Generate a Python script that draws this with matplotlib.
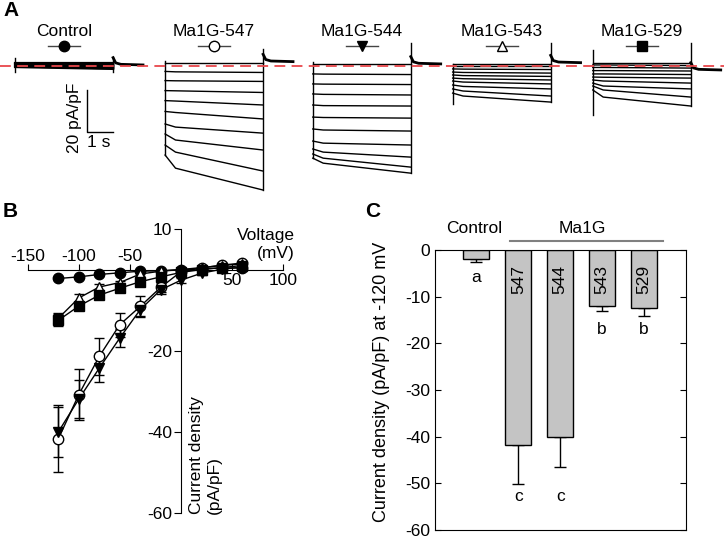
import matplotlib.pyplot as plt
import matplotlib.transforms as mtransforms

plt.rcParams['font.family'] = ['Liberation Sans', 'DejaVu Sans']
plt.rcParams['font.size'] = 12.5
plt.rcParams['axes.unicode_minus'] = False

# ---------------- data ----------------
names = ["Control", "Ma1G-547", "Ma1G-544", "Ma1G-543", "Ma1G-529"]
markers = ["o", "o", "v", "^", "s"]
fills = ["black", "white", "black", "white", "black"]

# panel A: example traces (pA/pF) sampled at these times after the step
trace_t = [0.0, 0.4, 3.77]
trace_start = [0.58, 6.35, 12.03, 17.41, 22.8]  # s
traces_ctrl = [[1.2, 1.2, 1.2], [1.0, 1.0, 0.8], [0.7, 0.7, 0.5], [0.5, 0.5, 0.1],
               [0.2, 0.2, -0.3], [0.0, -0.1, -0.7], [-0.2, -0.3, -1.1], [-0.5, -0.6, -1.4]]
traces_547 = [[1.6, 1.6, 1.6], [-2.6, -2.8, -3.1], [-7.0, -7.1, -7.4], [-11.8, -11.9, -12.7],
              [-16.6, -16.8, -18.7], [-21.8, -22.3, -25.4], [-27.8, -29.3, -32.2],
              [-32.6, -35.5, -40.3], [-37.9, -41.3, -50.4], [-42.7, -49.0, -59.5]]
traces_544 = [[1.0, 1.0, 1.0], [-3.8, -3.9, -4.1], [-8.6, -8.7, -8.9], [-13.4, -13.6, -13.9],
              [-18.7, -19.0, -19.2], [-24.5, -24.7, -25.0], [-30.2, -30.7, -31.2],
              [-36.0, -37.0, -37.9], [-39.8, -41.3, -43.7], [-42.2, -44.2, -48.5],
              [-44.2, -46.6, -51.4]]
traces_543 = [[1.0, 1.0, 1.0], [-0.2, -0.2, -0.2], [-1.4, -1.5, -1.7], [-2.9, -3.1, -3.4],
              [-4.3, -4.6, -5.0], [-5.8, -6.1, -6.7], [-7.2, -7.7, -8.6], [-9.1, -9.8, -11.0],
              [-11.0, -12.0, -14.4], [-13.0, -14.4, -17.3]]
traces_529 = [[1.4, 1.4, 1.4], [0.5, 0.5, 0.2], [-0.7, -0.7, -1.0], [-2.2, -2.2, -2.4],
              [-3.8, -3.8, -4.1], [-5.3, -5.4, -5.8], [-6.7, -7.2, -8.2], [-8.2, -9.6, -11.0],
              [-9.6, -11.5, -14.9], [-11.5, -14.9, -19.2]]
all_traces = [traces_ctrl, traces_547, traces_544, traces_543, traces_529]
left_edge = [(3.8, -2.9), (2.4, -42.7), (1.9, -44.2), (1.0, -18.2), (7.7, -23.5)]
right_edge = [(4.3, -2.9), (8.2, -59.5), (10.9, -51.4), (11.2, -17.5), (11.2, -19.2)]
tail_level = [0.5, 2.1, 1.0, 1.6, -1.9]
tail_t = [0.0, 0.1, 0.3, 1.15]
tail_shape = [3.5, 1.0, 0.3, 0.0]

# panel B: I-V curves
volt = [-120, -100, -80, -60, -40, -20, 0, 20, 40, 60]
iv_ctrl = [-2.2, -1.8, -1.2, -0.8, -0.4, -0.3, 0.0, 0.2, 0.4, 0.4]
iv_547 = [-41.7, -30.8, -21.4, -13.6, -9.1, -4.4, -0.5, 0.4, 1.1, 1.6]
iv_544 = [-40.0, -31.9, -24.3, -16.9, -9.9, -5.0, -2.6, -0.9, 0.1, 0.6]
iv_543 = [-12.0, -7.0, -4.3, -3.2, -1.1, -0.4, 0.0, 0.5, 1.0, 1.4]
iv_529 = [-12.5, -9.0, -6.3, -4.6, -3.0, -1.8, -0.7, 0.0, 0.5, 1.0]
err_ctrl = [0.4, 0.3, 0.3, 0.2, 0.2, 0.2, 0.1, 0.1, 0.1, 0.1]
err_547 = [8.2, 6.3, 4.5, 3.0, 2.5, 1.2, 0.6, 0.4, 0.4, 0.4]
err_544 = [6.2, 4.8, 3.5, 2.3, 1.5, 1.0, 0.6, 0.4, 0.3, 0.3]
err_543 = [1.3, 1.0, 0.8, 0.5, 0.4, 0.3, 0.2, 0.2, 0.2, 0.2]
err_529 = [1.5, 1.0, 0.7, 0.5, 0.4, 0.3, 0.2, 0.2, 0.2, 0.2]
iv_all = [iv_ctrl, iv_547, iv_544, iv_543, iv_529]
err_all = [err_ctrl, err_547, err_544, err_543, err_529]

# panel C: current density at -120 mV
bar_pos = [1, 2, 3, 4, 5]
bar_vals = [-2.0, -41.8, -40.0, -11.9, -12.4]
bar_err = [0.6, 8.4, 6.4, 1.1, 1.7]
bar_nums = ["", "547", "544", "543", "529"]
bar_letters = ["a", "c", "c", "b", "b"]
letter_y = [-5.8, -52.9, -52.9, -17.1, -17.1]

W, H = 724, 538
fig = plt.figure(figsize=(W / 100, H / 100), dpi=100)


def fbox(x0, y0, x1, y1):
    # pixel box (top-left origin) -> figure fraction rect
    return [x0 / W, 1 - y1 / H, (x1 - x0) / W, (y1 - y0) / H]


# ---------------- panel A ----------------
PX_T = 26.0      # px per second
PX_I = 2.085     # px per pA/pF
Y0 = 66          # zero line, px from top
axA = fig.add_axes(fbox(0, 0, W, 200))
axA.set_xlim(0, W / PX_T)
axA.set_ylim(-(200 - Y0) / PX_I, Y0 / PX_I)
axA.axis("off")

dur = trace_t[-1]
for k in range(5):
    t0 = trace_start[k]
    lw = 1.6 if k == 0 else 1.0
    for tr in all_traces[k]:
        axA.plot([t0 + t for t in trace_t], tr, color="black", lw=lw)
    axA.plot([t0, t0], left_edge[k], color="black", lw=1.0)
    axA.plot([t0 + dur, t0 + dur], right_edge[k], color="black", lw=1.0)
    axA.plot([t0 + dur + t for t in tail_t],
             [tail_level[k] + s for s in tail_shape], color="black", lw=2.0)
    # name + symbol
    tc = t0 + dur / 2
    axA.text(tc, (Y0 - 32) / PX_I, names[k], ha="center", va="center")
    axA.plot([tc - 0.62, tc + 0.62], [(Y0 - 46) / PX_I] * 2, color="#444444", lw=1.0)
    axA.plot(tc, (Y0 - 46) / PX_I, marker=markers[k], ms=7.5, mfc=fills[k],
             mec="black", mew=1.0, ls="none")

axA.axhline(0, color="#e8474b", lw=1.3, ls=(0, (6, 3.5)), zorder=5)

# scale bar
sb_t, sb_top, sb_bot = 3.36, -11.5, -31.5
axA.plot([sb_t, sb_t, sb_t + 1], [sb_top, sb_bot, sb_bot], color="black", lw=1.0)
axA.text(2.88, -24.7, "20 pA/pF", rotation=90, ha="center", va="center")
axA.text(3.81, -36.5, "1 s", ha="center", va="center")

# ---------------- panel B ----------------
axB = fig.add_axes(fbox(27.7, 229, 283.3, 513))
axB.set_xlim(-150, 100)
axB.set_ylim(-60, 10)
for s in ["top", "right"]:
    axB.spines[s].set_visible(False)
axB.spines["left"].set_position(("data", 0))
axB.spines["bottom"].set_position(("data", 0))
axB.set_xticks([-150, -100, -50, 50, 100])
axB.set_xticklabels([])
axB.tick_params(axis="x", direction="in", length=4)
axB.set_yticks([10, -20, -40, -60])
axB.tick_params(axis="y", direction="out", length=5, pad=1.5)
for v in [-150, -100, -50]:
    axB.text(v, 3.1, str(v), ha="center", va="center")
for v in [50, 100]:
    axB.text(v, -2.8, str(v), ha="center", va="center")
axB.text(111.5, 10.2, "Voltage\n(mV)", ha="right", va="top", multialignment="right",
         clip_on=False)
axB.text(7.8, -60.2, "Current density\n(pA/pF)", rotation=90, ha="left", va="bottom",
         multialignment="left")

for k in range(5):
    axB.errorbar(volt, iv_all[k], yerr=err_all[k], color="black", lw=1.0,
                 capsize=3.5, elinewidth=1.0, zorder=2)
for k in range(5):
    axB.plot(volt, iv_all[k], ls="none", marker=markers[k], ms=7.5, mfc=fills[k],
             mec="black", mew=1.0, zorder=3)

# ---------------- panel C ----------------
axC = fig.add_axes(fbox(434.5, 250, 686, 530))
axC.bar(bar_pos, bar_vals, width=0.62, color="#c4c4c4", edgecolor="black", lw=1.0,
        zorder=2)
axC.errorbar(bar_pos, bar_vals, yerr=[bar_err, [0] * 5], fmt="none", ecolor="black",
             elinewidth=1.0, capsize=4, zorder=1)
axC.set_xlim(0, 6)
axC.set_ylim(-60, 0)
axC.set_xticks([])
axC.set_yticks([0, -10, -20, -30, -40, -50, -60])
axC.tick_params(axis="y", direction="in", length=4, pad=3, right=True)
for p, n, l, ly in zip(bar_pos, bar_nums, bar_letters, letter_y):
    if n:
        axC.text(p, -6.4, n, rotation=90, ha="center", va="center")
    axC.text(p, ly, l, ha="center", va="center")
trans = mtransforms.blended_transform_factory(axC.transData, axC.transAxes)
axC.text(0.95, 1.075, "Control", transform=trans, ha="center", va="center")
axC.text(3.52, 1.075, "Ma1G", transform=trans, ha="center", va="center")
axC.plot([1.79, 5.45], [1.033, 1.033], transform=trans, color="#808080", lw=1.5,
         clip_on=False)
fig.text(381 / W, 1 - 381.5 / H, "Current density (pA/pF) at -120 mV", rotation=90,
         ha="center", va="center", fontsize=13)

# panel letters
for lab, x, y in [("A", 3, 10), ("B", 3, 212), ("C", 365, 212)]:
    fig.text(x / W, 1 - y / H, lab, fontsize=15, fontweight="bold", ha="left",
             va="center")

fig.savefig("out.png", dpi=100)
